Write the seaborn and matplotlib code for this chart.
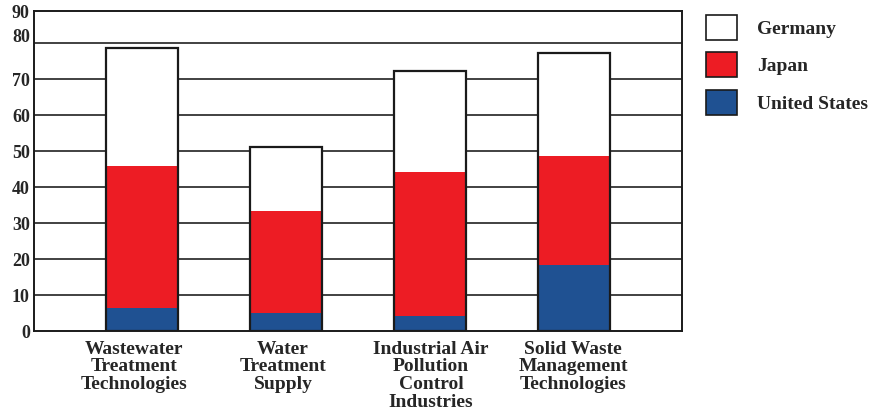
import numpy as np
import pandas as pd
import matplotlib
matplotlib.use('Agg')
import matplotlib.pyplot as plt
import matplotlib.transforms as mtransforms
from matplotlib.patches import Patch
import seaborn as sns

# data (segment heights, percent share)
categories = ['Wastewater\nTreatment\nTechnologies', 'Water\nTreatment\nSupply',
              'Industrial Air\nPollution\nControl\nIndustries', 'Solid Waste\nManagement\nTechnologies']
us = [6.4, 5.0, 4.3, 18.3]
japan = [39.6, 28.5, 39.9, 30.3]
germany = [32.7, 17.7, 28.0, 28.7]
yticks = [0, 10, 20, 30, 40, 50, 60, 70, 80]

df = pd.DataFrame({'cat': categories, 'us': us, 'japan': japan, 'germany': germany})
df['us_top'] = df['us']
df['japan_top'] = df['us'] + df['japan']
df['total'] = df['japan_top'] + df['germany']

sns.set_style('white')
plt.rcParams['font.family'] = ['Liberation Serif', 'DejaVu Serif']
plt.rcParams['font.weight'] = 'bold'

red = '#ED1C24'
blue = '#1F5192'

fig = plt.figure(figsize=(8.85, 4.17), dpi=100)
ax = fig.add_axes([0.0384, 0.2062, 0.7322, 0.7674])

# gridlines behind bars
for t in yticks[1:]:
    ax.axhline(t, color='#333333', lw=1.3, zorder=0)

sns.barplot(data=df, x='cat', y='total', color='white', width=0.5, saturation=1,
            edgecolor='none', linewidth=0, ax=ax, zorder=2)
sns.barplot(data=df, x='cat', y='japan_top', color=red, width=0.5, saturation=1,
            edgecolor='none', linewidth=0, ax=ax, zorder=2)
sns.barplot(data=df, x='cat', y='us_top', color=blue, width=0.5, saturation=1,
            edgecolor='none', linewidth=0, ax=ax, zorder=2)
n_before = len(ax.patches)
sns.barplot(data=df, x='cat', y='total', color='white', width=0.5, saturation=1,
            edgecolor='#1a1a1a', linewidth=1.6, ax=ax, zorder=3)
for p in ax.patches[n_before:]:
    p.set_facecolor('none')

ax.set_xlim(-0.75, 3.75)
ax.set_ylim(0, 89)
ax.set_yticks(yticks + [89])
ax.set_yticklabels([str(t) for t in yticks] + ['90'], fontsize=13, fontweight='bold')
ax.tick_params(axis='both', length=0)
ax.tick_params(axis='y', pad=3)
ax.tick_params(axis='x', pad=7)
ax.set_xticks(range(len(categories)))
ax.set_xticklabels(categories, fontsize=14, fontweight='bold', linespacing=1.05)
ax.set_xlabel('')
ax.set_ylabel('')

# the "80" label sits a little above its gridline in the original
lab80 = ax.get_yticklabels()[8]
lab80.set_transform(lab80.get_transform() + mtransforms.ScaledTranslation(0, 8 / 100, fig.dpi_scale_trans))

# category labels are not quite centred under the bars
x_shift = [-8, -3, 1, -1]
for lab, dx in zip(ax.get_xticklabels(), x_shift):
    lab.set_transform(lab.get_transform() + mtransforms.ScaledTranslation(dx / 100, 0, fig.dpi_scale_trans))

for s in ax.spines.values():
    s.set_visible(True)
    s.set_color('#1a1a1a')
    s.set_linewidth(1.4)

handles = [Patch(facecolor='white', edgecolor='#1a1a1a', lw=1.2, label='Germany'),
           Patch(facecolor=red, edgecolor='#1a1a1a', lw=1.2, label='Japan'),
           Patch(facecolor=blue, edgecolor='#1a1a1a', lw=1.2, label='United States')]
fig.legend(handles=handles, loc='upper left', bbox_to_anchor=(0.7977, 0.964), frameon=False,
           prop={'family': 'Liberation Serif', 'weight': 'bold', 'size': 14},
           borderpad=0, borderaxespad=0,
           handlelength=1.6, handleheight=1.6, labelspacing=0.64, handletextpad=1.03)

fig.savefig('out.png', dpi=100)
